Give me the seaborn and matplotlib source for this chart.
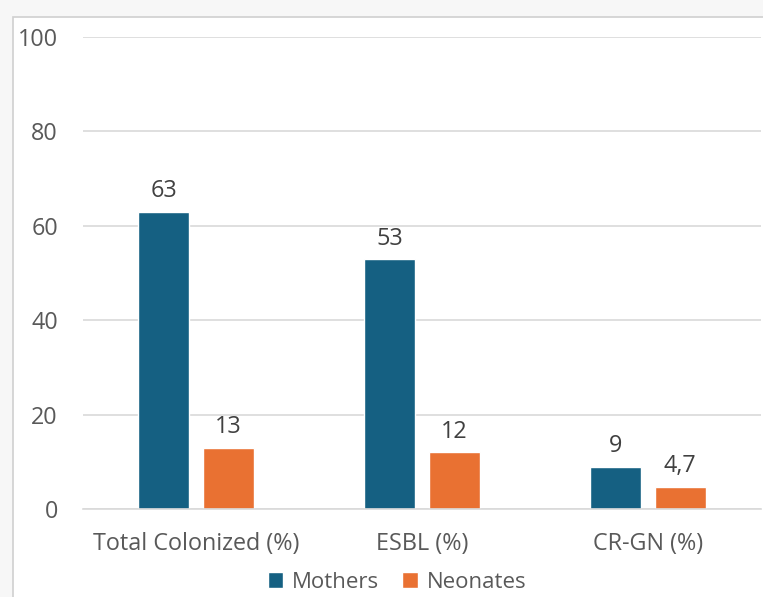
import matplotlib
matplotlib.use("Agg")
import matplotlib.pyplot as plt
from matplotlib.patches import Rectangle
import seaborn as sns
import pandas as pd

# Colonization rates by group
categories = ["Total Colonized (%)", "ESBL (%)", "CR-GN (%)"]
groups = ["Mothers", "Neonates"]
mothers = [63, 53, 9]
neonates = [13, 12, 4.7]
yticks = [0, 20, 40, 60, 80, 100]

colors = ["#156082", "#E97132"]
text_color = "#595959"
label_color = "#404040"
grid_color = "#D9D9D9"

df = pd.DataFrame({
    "category": categories * 2,
    "group": [groups[0]] * len(categories) + [groups[1]] * len(categories),
    "value": mothers + neonates,
})

sns.set_theme(style="white")
plt.rcParams["font.family"] = ["Open Sans", "DejaVu Sans"]
FS = 16.8

W, H = 763, 597
fig = plt.figure(figsize=(W / 100, H / 100), dpi=100)
fig.patch.set_facecolor("#F7F7F7")
# white chart panel with thin gray frame
panel = Rectangle((12.5 / W, -0.01), 1, 1.01 - 16.5 / H, transform=fig.transFigure,
                  facecolor="white", edgecolor="#D0D0D0", linewidth=1.2, zorder=-10)
fig.add_artist(panel)

ax = fig.add_axes([83 / W, (H - 509) / H, (761 - 83) / W, (509 - 37) / H])
ax.set_facecolor("none")

sns.barplot(data=df, x="category", y="value", hue="group", palette=colors,
            width=0.57, gap=0.21, ax=ax, legend=True, saturation=1)

ax.set_xlim(-0.5, 2.5)
ax.set_ylim(0, 100)
ax.set_yticks(yticks)
ax.yaxis.grid(True, color=grid_color, linewidth=1.2)
ax.set_axisbelow(True)
for s in ["top", "right", "left"]:
    ax.spines[s].set_visible(False)
ax.spines["bottom"].set_color(grid_color)
ax.spines["bottom"].set_linewidth(1.2)

ax.tick_params(axis="y", length=0, pad=18, labelsize=FS, labelcolor=text_color)
ax.tick_params(axis="x", length=0, pad=16.5, labelsize=FS, labelcolor=text_color)
ax.set_xlabel("")
ax.set_ylabel("")

for container in ax.containers:
    labels = [f"{v:g}".replace(".", ",") for v in container.datavalues]
    ax.bar_label(container, labels=labels, padding=6, fontsize=FS, color=label_color)

ax.get_legend().remove()
handles, labs = ax.get_legend_handles_labels()
fig.legend(handles, labs, loc="center", bbox_to_anchor=(397 / W, (H - 582) / H),
           ncol=2, frameon=False, fontsize=16, labelcolor=text_color,
           handlelength=0.7, handleheight=0.7, handletextpad=0.4,
           columnspacing=1.05)

fig.savefig("out.png", dpi=100, facecolor=fig.get_facecolor())
